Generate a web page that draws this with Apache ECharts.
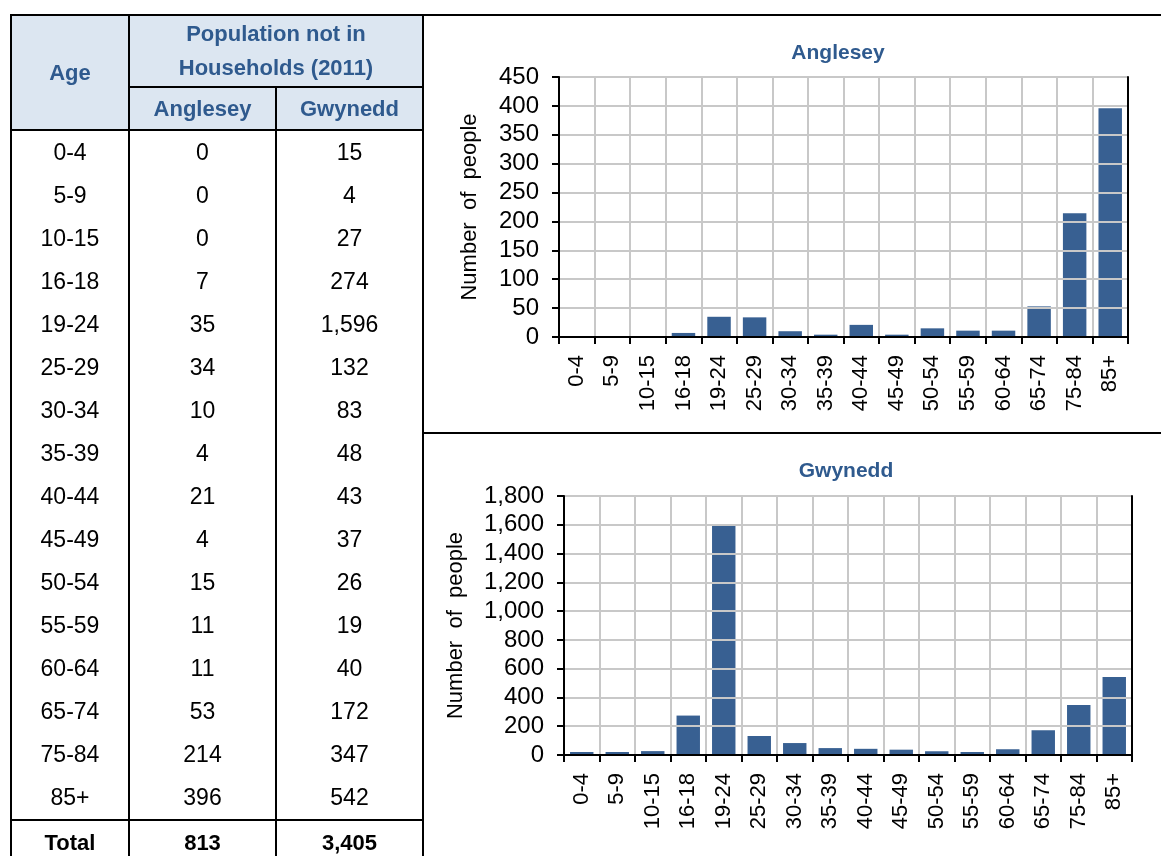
<!DOCTYPE html>
<html>
<head>
<meta charset="utf-8">
<script src="https://cdn.jsdelivr.net/npm/echarts@6/dist/echarts.min.js"></script>
<style>
  html, body { margin:0; padding:0; background:#fff; }
  #chart { position:absolute; left:0; top:0; width:1161px; height:856px; }
  #tbl { position:absolute; left:10px; top:14px; border-collapse:collapse; z-index:2;
         font-family:"Liberation Sans", Arial, sans-serif; font-size:23px; color:#000; table-layout:fixed; }
  #tbl td, #tbl th { padding:0; text-align:center; }
  #tbl th { background:#DCE6F1; color:#2F5A8E; font-weight:bold; font-size:22px; border:2px solid #000; line-height:34px; }
  #tbl td { height:43px; border-left:2px solid #000; border-right:2px solid #000; }
  #tbl tr.total td { font-weight:bold; border-top:2px solid #000; font-size:22px; }
</style>
</head>
<body>
<div id="chart"></div>
<table id="tbl">
  <colgroup><col style="width:118px"><col style="width:147px"><col style="width:147px"></colgroup>
  <thead></thead>
  <tbody></tbody>
</table>
<script>
const ageGroups = ['0-4','5-9','10-15','16-18','19-24','25-29','30-34','35-39','40-44','45-49','50-54','55-59','60-64','65-74','75-84','85+'];
const anglesey = [0,0,0,7,35,34,10,4,21,4,15,11,11,53,214,396];
const gwynedd = [15,4,27,274,1596,132,83,48,43,37,26,19,40,172,347,542];
const angleseyTotal = 813;
const gwyneddTotal = 3405;
const tableHeader = ['Age', 'Population not in', 'Households (2011)', 'Anglesey', 'Gwynedd', 'Total'];
const chartTitles = ['Anglesey', 'Gwynedd'];
const yAxisName = 'Number  of  people';

const fmt = v => v.toLocaleString('en-US');

// Build table
const thead = document.querySelector('#tbl thead');
thead.innerHTML =
  '<tr><th rowspan="2" style="height:113px">' + tableHeader[0] + '</th>' +
  '<th colspan="2" style="height:70px">' + tableHeader[1] + '<br>' + tableHeader[2] + '</th></tr>' +
  '<tr><th style="height:41px">' + tableHeader[3] + '</th><th>' + tableHeader[4] + '</th></tr>';
const tbody = document.querySelector('#tbl tbody');
let rows = '';
ageGroups.forEach((a, i) => {
  rows += '<tr><td>' + a + '</td><td>' + fmt(anglesey[i]) + '</td><td>' + fmt(gwynedd[i]) + '</td></tr>';
});
rows += '<tr class="total"><td>' + tableHeader[5] + '</td><td>' + fmt(angleseyTotal) + '</td><td>' + fmt(gwyneddTotal) + '</td></tr>';
tbody.innerHTML = rows;

const chart = echarts.init(document.getElementById('chart'), null, {renderer:'canvas'});
const barColor = '#386092';
const gridColor = '#C8C8C8';
const font = '"Liberation Sans", Arial, sans-serif';

function xAxis(idx) {
  return {
    type:'category', gridIndex:idx, data:ageGroups,
    axisLine:{show:true, lineStyle:{color:'#000', width:2}},
    axisTick:{show:true, length:7, lineStyle:{color:'#000', width:2}},
    splitLine:{show:true, lineStyle:{color:gridColor, width:2}},
    axisLabel:{rotate:90, margin:18, interval:0, fontFamily:font, fontSize:22, color:'#000'},
    z:3
  };
}
function xAxisTop(idx) {
  return {
    type:'category', gridIndex:idx, data:ageGroups, position:'top',
    axisLine:{show:true, lineStyle:{color:'#000', width:2}},
    axisTick:{show:false}, axisLabel:{show:false}, splitLine:{show:false}, z:6
  };
}
function yAxis(idx, max, interval, gap) {
  return {
    type:'value', gridIndex:idx, min:0, max:max, interval:interval,
    name:yAxisName, nameLocation:'middle', nameRotate:90, nameGap:gap,
    nameTextStyle:{fontFamily:font, fontSize:22, color:'#000'},
    axisLine:{show:true, lineStyle:{color:'#000', width:2}},
    axisTick:{show:true, length:7, lineStyle:{color:'#000', width:2}},
    splitLine:{show:true, lineStyle:{color:gridColor, width:2}},
    axisLabel:{margin:20, fontFamily:font, fontSize:24, color:'#000', formatter:v => fmt(v)},
    z:3
  };
}
function yAxisRight(idx, max, interval) {
  return {
    type:'value', gridIndex:idx, min:0, max:max, interval:interval, position:'right',
    axisLine:{show:true, lineStyle:{color:'#000', width:2}},
    axisTick:{show:false}, axisLabel:{show:false}, splitLine:{show:false}, z:6
  };
}

const titleStyle = {fontFamily:font, fontWeight:'bold', fontSize:21, color:'#2F5A8E'};
const option = {
  animation:false,
  title:[
    {text:chartTitles[0], left:833, top:38, textAlign:'center', textStyle:titleStyle},
    {text:chartTitles[1], left:841, top:456, textAlign:'center', textStyle:titleStyle}
  ],
  grid:[
    {left:559, top:77, width:569, height:260},
    {left:564, top:496, width:568, height:259}
  ],
  xAxis:[xAxis(0), xAxis(1), xAxisTop(0), xAxisTop(1)],
  yAxis:[yAxis(0, 450, 50, 78), yAxis(1, 1800, 200, 97), yAxisRight(0, 450, 50), yAxisRight(1, 1800, 200)],
  series:[
    {type:'bar', xAxisIndex:0, yAxisIndex:0, data:anglesey, barCategoryGap:'34%', itemStyle:{color:barColor}},
    {type:'bar', xAxisIndex:1, yAxisIndex:1, data:gwynedd, barCategoryGap:'34%', barMinHeight:3, itemStyle:{color:barColor}}
  ],
  graphic:[
    {type:'line', shape:{x1:10, y1:15, x2:1161, y2:15}, style:{stroke:'#000', lineWidth:2}},
    {type:'line', shape:{x1:423, y1:15, x2:423, y2:856}, style:{stroke:'#000', lineWidth:2}},
    {type:'line', shape:{x1:423, y1:433, x2:1161, y2:433}, style:{stroke:'#000', lineWidth:2}}
  ]
};
chart.setOption(option);
</script>
</body>
</html>
